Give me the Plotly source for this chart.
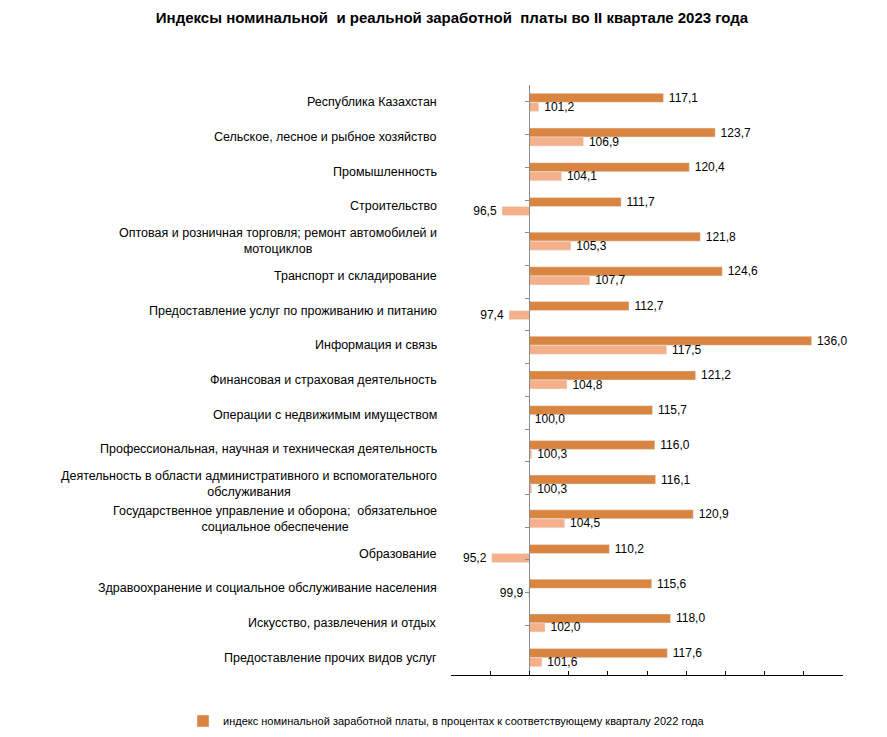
import plotly.graph_objects as go

categories = [
    "Республика Казахстан",
    "Сельское, лесное и рыбное хозяйство",
    "Промышленность",
    "Строительство",
    "Оптовая и розничная торговля; ремонт автомобилей и<br>мотоциклов",
    "Транспорт и складирование",
    "Предоставление услуг по проживанию и питанию",
    "Информация и связь",
    "Финансовая и страховая деятельность",
    "Операции с недвижимым имуществом",
    "Профессиональная, научная и техническая деятельность",
    "Деятельность в области административного и вспомогательного<br>обслуживания",
    "Государственное управление и оборона;  обязательное<br>социальное обеспечение",
    "Образование",
    "Здравоохранение и социальное обслуживание населения",
    "Искусство, развлечения и отдых",
    "Предоставление прочих видов услуг",
]
nominal = [117.1, 123.7, 120.4, 111.7, 121.8, 124.6, 112.7, 136.0, 121.2, 115.7,
           116.0, 116.1, 120.9, 110.2, 115.6, 118.0, 117.6]
real = [101.2, 106.9, 104.1, 96.5, 105.3, 107.7, 97.4, 117.5, 104.8, 100.0,
        100.3, 100.3, 104.5, 95.2, 99.9, 102.0, 101.6]
base_value = 100
nominal_name = "индекс номинальной заработной платы, в процентах к соответствующему кварталу 2022 года"
real_name = "индекс реальной заработной платы, в процентах к соответствующему кварталу 2022 года"
title_text = "Индексы номинальной  и реальной заработной  платы во II квартале 2023 года"

FONT = "Liberation Sans"
C_NOM = "#D9843F"
C_REAL = "#F5B08A"
AX = "#8C8C8C"


def templates(vals):
    # small gap between bar end and label, on the outer side of the bar
    return ["\u2009%{customdata:.1f}" if v >= base_value else "%{customdata:.1f}\u2009"
            for v in vals]


fig = go.Figure()
fig.add_trace(go.Bar(
    y=categories, x=[v - base_value for v in nominal], base=base_value,
    orientation="h", name=nominal_name, marker_color=C_NOM,
    customdata=nominal, texttemplate=templates(nominal), textposition="outside",
    constraintext="none",
    textfont=dict(family=FONT, size=12, color="#000"), cliponaxis=False,
))
fig.add_trace(go.Bar(
    y=categories, x=[v - base_value for v in real], base=base_value,
    orientation="h", name=real_name, marker_color=C_REAL, showlegend=False,
    customdata=real, texttemplate=templates(real), textposition="outside",
    constraintext="none",
    textfont=dict(family=FONT, size=12, color="#000"), cliponaxis=False,
))
# invisible trace carrying the categories for the axis drawn at 100
fig.add_trace(go.Scatter(
    y=categories, x=[base_value] * len(categories), yaxis="y2", mode="markers",
    marker=dict(opacity=0), showlegend=False, hoverinfo="skip",
))

for c in categories:
    fig.add_annotation(
        x=0, xref="paper", y=c, yref="y", text=c, showarrow=False,
        xanchor="right", align="center", xshift=-12,
        font=dict(family=FONT, size=12.5, color="#000"),
    )

xmin, xmax = 90, 140
fig.update_layout(
    width=887, height=737,
    margin=dict(l=443, r=52, t=77, b=70),
    paper_bgcolor="white", plot_bgcolor="white",
    separators=", ",
    barmode="group", bargap=0.48, bargroupgap=0,
    title=dict(text="<b>" + title_text + "</b>", x=444 / 887, xref="container",
               xanchor="center", y=1 - 10 / 737, yref="container", yanchor="middle",
               font=dict(family=FONT, size=15, color="#000")),
    xaxis=dict(range=[xmin, xmax], dtick=5, tick0=xmin, showticklabels=False,
               showgrid=False, zeroline=False, showline=True, linecolor="#000",
               linewidth=1, ticks="inside", ticklen=4, tickcolor="#000"),
    yaxis=dict(type="category", autorange="reversed", showticklabels=False,
               showgrid=False, zeroline=False, showline=False, ticks=""),
    yaxis2=dict(type="category", overlaying="y", anchor="free",
                position=(base_value - xmin) / (xmax - xmin), side="left",
                autorange="reversed", showticklabels=False, showgrid=False,
                zeroline=False, showline=True, linecolor=AX, ticks="outside",
                tickson="boundaries", ticklen=4, tickcolor=AX),
    showlegend=True,
    legend=dict(orientation="h", xref="container", yref="container",
                x=175 / 887, xanchor="left", y=24 / 737, yanchor="middle",
                font=dict(family=FONT, size=11, color="#000"),
                bgcolor="rgba(0,0,0,0)"),
)
fig.write_html("out.html")
